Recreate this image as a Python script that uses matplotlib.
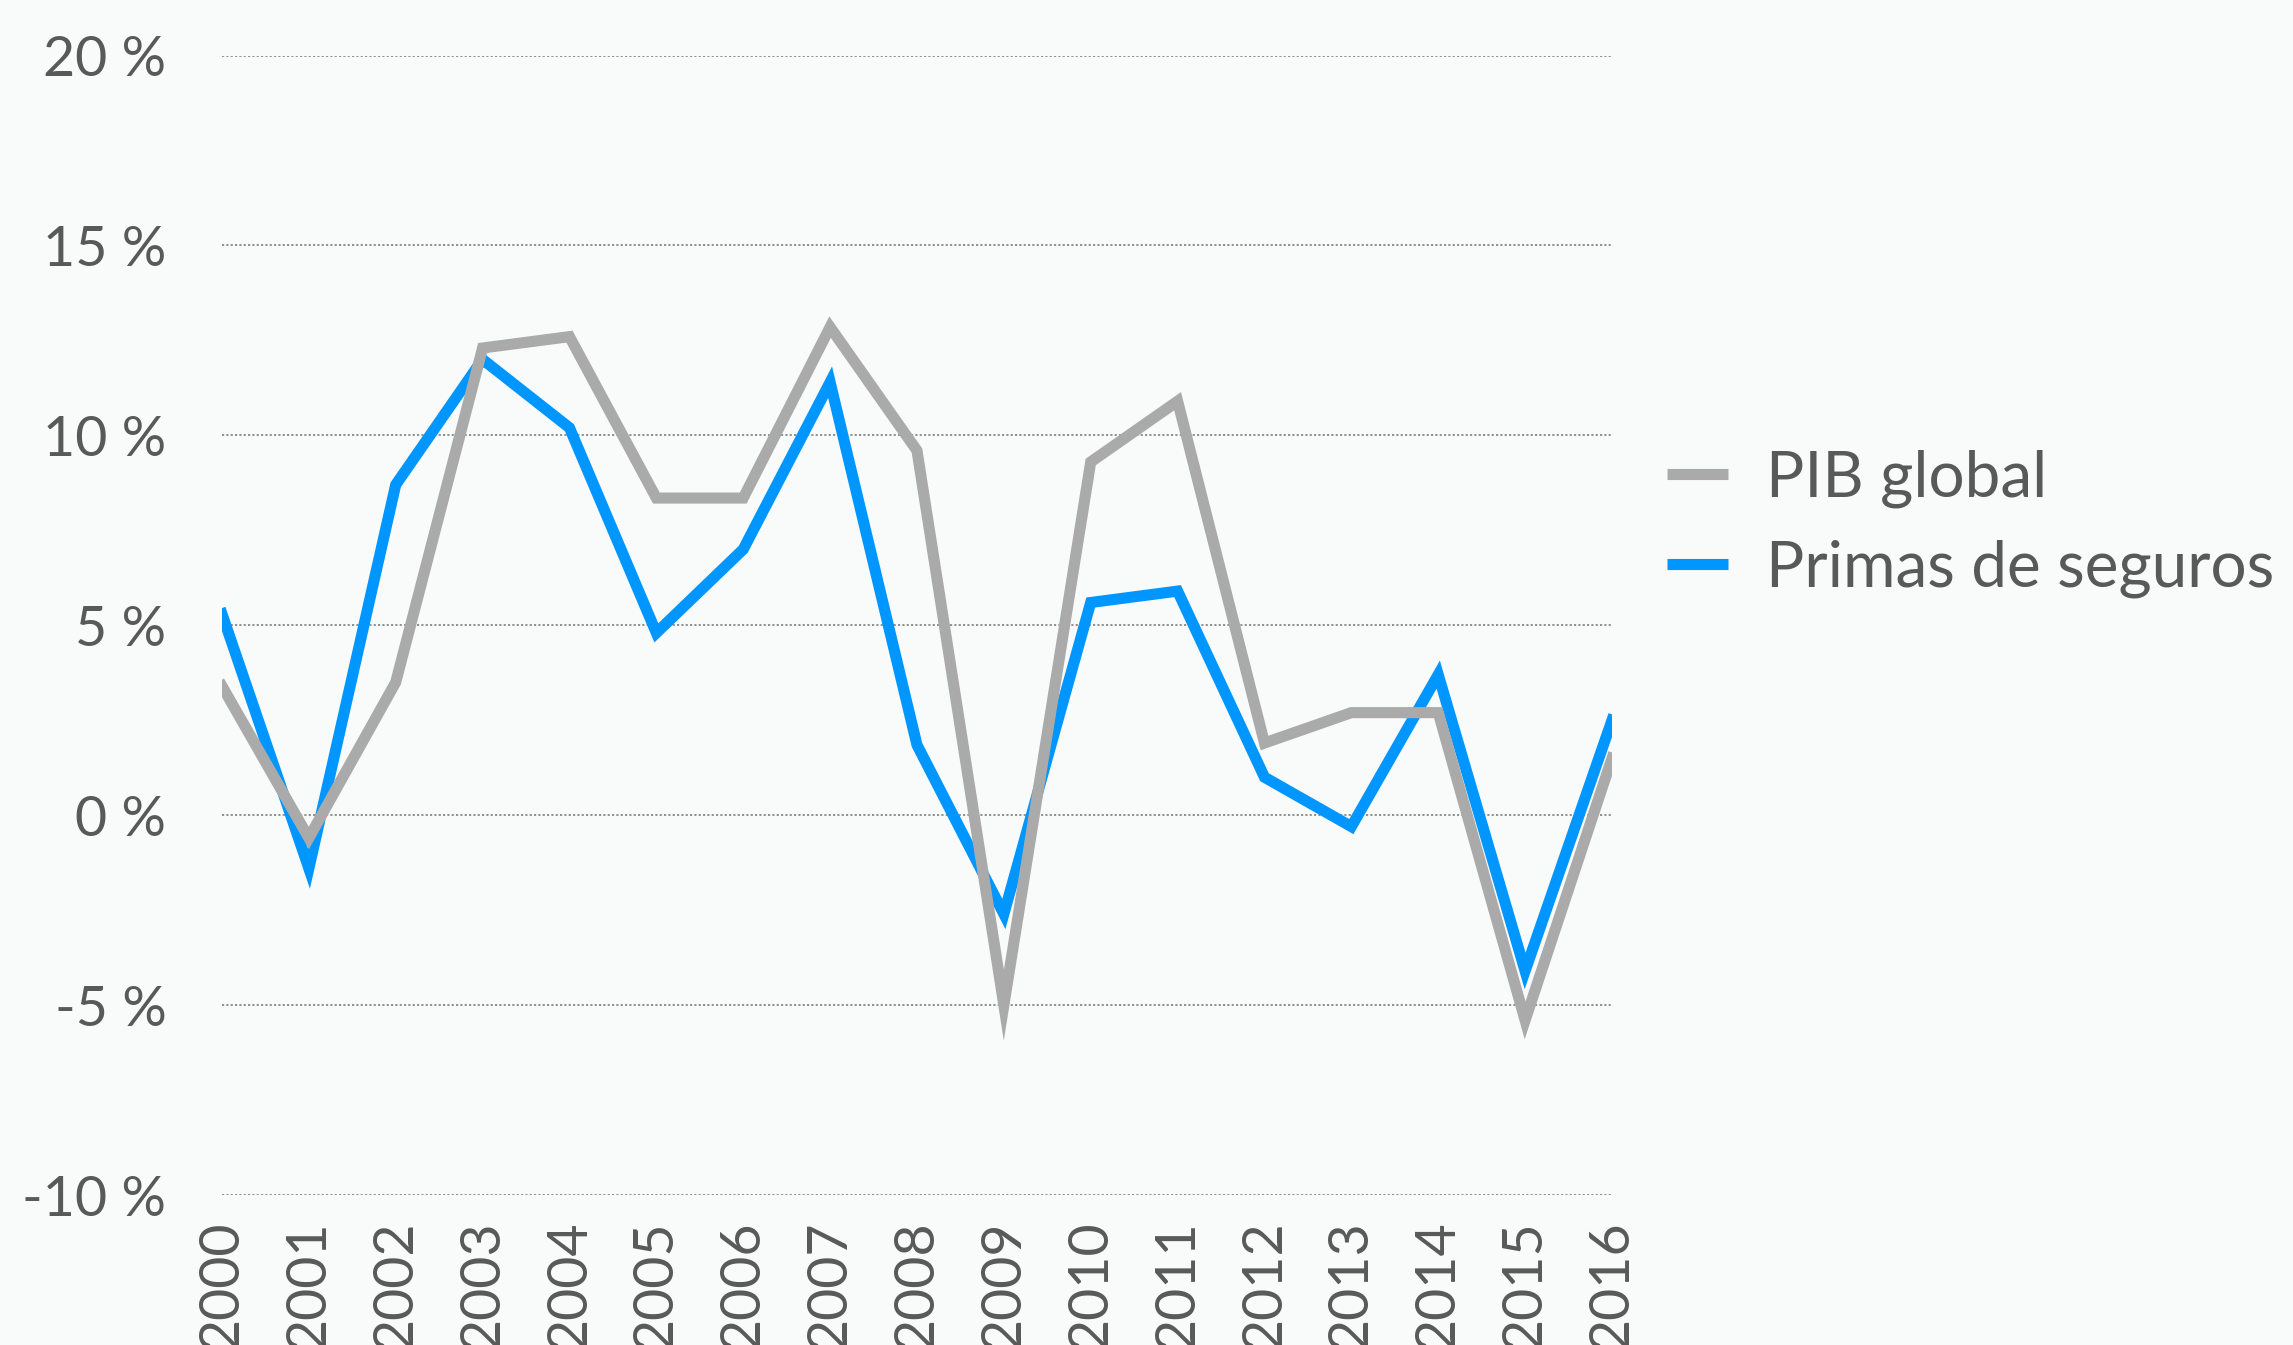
import matplotlib
matplotlib.use("Agg")
import matplotlib.pyplot as plt
from matplotlib.lines import Line2D

years = list(range(2000, 2017))
pib_global = [3.4, -0.6, 3.5, 12.3, 12.6, 8.35, 8.35, 12.85, 9.6, -5.0,
              9.3, 10.9, 1.9, 2.7, 2.7, -5.4, 1.5]
primas_seguros = [5.3, -1.4, 8.7, 12.0, 10.2, 4.8, 7.0, 11.4, 1.85, -2.6,
                  5.6, 5.9, 1.0, -0.3, 3.7, -4.1, 2.5]
series_labels = ["PIB global", "Primas de seguros"]
y_ticks = [-10, -5, 0, 5, 10, 15, 20]
y_ticklabels = [f"{v} %" for v in y_ticks]

plt.rcParams['font.family'] = ['Lato', 'DejaVu Sans']
bg = "#f9fbfb"
txt = "#595959"
gray = "#aaaaaa"
blue = "#0096ff"

fig = plt.figure(figsize=(22.93, 13.45), dpi=100, facecolor=bg)
ax = fig.add_axes([0.0968, 0.1115, 0.703 - 0.0968, 0.9587 - 0.1115])
ax.set_facecolor(bg)

ax.plot(years, pib_global, color=gray, lw=8, solid_joinstyle='miter', zorder=3)
ax.plot(years, primas_seguros, color=blue, lw=8, solid_joinstyle='miter', zorder=2)

ax.set_xlim(years[0], years[-1])
ax.set_ylim(-10, 20)
ax.set_yticks(y_ticks)
ax.set_yticklabels(y_ticklabels)
ax.set_xticks(years)
ax.set_xticklabels([str(y) for y in years], rotation=90)
ax.tick_params(axis='both', length=0, labelcolor=txt, labelsize=40)
ax.tick_params(axis='y', pad=40)
ax.tick_params(axis='x', pad=18)
for s in ax.spines.values():
    s.set_visible(False)
ax.grid(axis='y', color='#888888', linestyle=(0, (1.2, 1.2)), lw=1.3)
ax.set_axisbelow(True)

handles = [Line2D([], [], color=gray, lw=8, solid_capstyle='butt'),
           Line2D([], [], color=blue, lw=8, solid_capstyle='butt')]
leg = fig.legend(handles, series_labels, loc='center left',
                 bbox_to_anchor=(0.727, 0.6106), frameon=False,
                 fontsize=46, handlelength=0.95, handletextpad=0.6,
                 labelspacing=0.5, borderaxespad=0, borderpad=0)
for t in leg.get_texts():
    t.set_color(txt)

fig.savefig("out.png", dpi=100, facecolor=bg)
